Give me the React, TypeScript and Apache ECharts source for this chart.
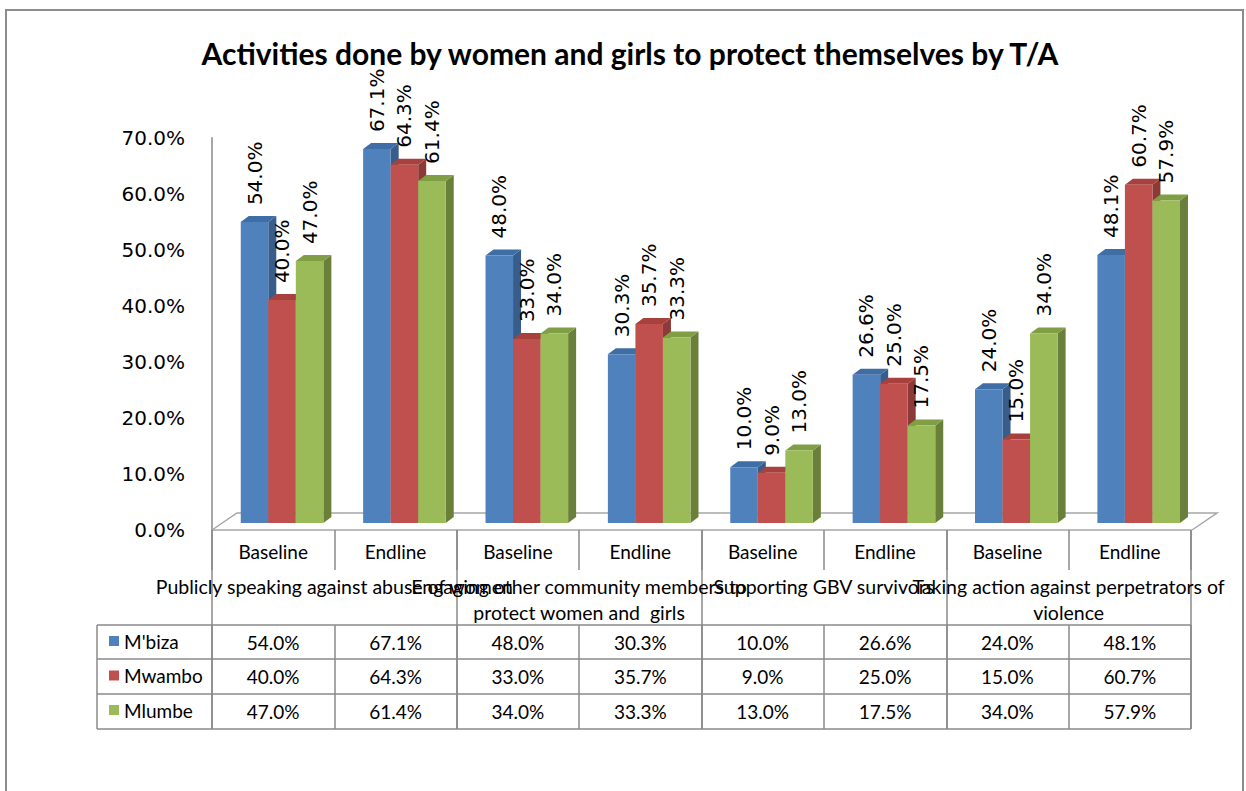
import React, { useEffect, useRef } from "react";
import * as echarts from "echarts";

const levels = ["Baseline", "Endline", "Baseline", "Endline", "Baseline", "Endline", "Baseline", "Endline"];
const groups = [
  "Publicly speaking against abuse of women",
  "Engaging other community members to\nprotect women and  girls",
  "Supporting GBV survivors",
  "Taking action against perpetrators of\nviolence",
];
const seriesNames = ["M'biza", "Mwambo", "Mlumbe"];
const mbiza = [54.0, 67.1, 48.0, 30.3, 10.0, 26.6, 24.0, 48.1];
const mwambo = [40.0, 64.3, 33.0, 35.7, 9.0, 25.0, 15.0, 60.7];
const mlumbe = [47.0, 61.4, 34.0, 33.3, 13.0, 17.5, 34.0, 57.9];
const yMin = 0;
const yMax = 70;
const yStep = 10;

const palettes = [
  { front: "#4F81BD", top: "#3F6DA6", side: "#385D8A" },
  { front: "#C0504D", top: "#A8403D", side: "#8C3A38" },
  { front: "#9BBB59", top: "#809F45", side: "#6A7F3A" },
];

const fmt = (v: number) => v.toFixed(1) + "%";
const LINE = "#8a8a8a";
const FLOOR = "#a6a6a6";
const TABLE_FONT = "Lato";

export default function App() {
  const ref = useRef<HTMLDivElement>(null);
  useEffect(() => {
    if (!ref.current) return;
    const chart = echarts.init(ref.current, null, { renderer: "svg" });
    const all = [mbiza, mwambo, mlumbe];

    const makeSeries = (k: number) => ({
      type: "custom",
      name: seriesNames[k],
      xAxisIndex: 0,
      yAxisIndex: 0,
      itemStyle: { color: palettes[k].front },
      encode: { x: 0, y: 1 },
      data: all[k].map((v, i) => [i, v]),
      renderItem: (params: any, api: any) => {
        const idx = api.value(0);
        const v = api.value(1);
        const c0 = api.coord([idx, 0]);
        const c1 = api.coord([idx, v]);
        const bw = api.size([1, 0])[0];
        const w = bw * 0.225;
        const colStart = c0[0] - bw / 2;
        const x0 = colStart + bw * 0.235 + k * w;
        const yBase = c0[1] - 7;
        const yTop = yBase - (c0[1] - c1[1]) * 0.995;
        const dx = 8;
        const dy = -6;
        const p = palettes[k];
        return {
          type: "group",
          children: [
            {
              type: "polygon",
              shape: { points: [[x0 + w, yTop], [x0 + w + dx, yTop + dy], [x0 + w + dx, yBase + dy], [x0 + w, yBase]] },
              style: { fill: p.side },
            },
            {
              type: "polygon",
              shape: { points: [[x0, yTop], [x0 + dx, yTop + dy], [x0 + w + dx, yTop + dy], [x0 + w, yTop]] },
              style: { fill: p.top },
            },
            {
              type: "rect",
              shape: { x: x0, y: yTop, width: w, height: yBase - yTop },
              style: { fill: p.front },
            },
            {
              type: "text",
              x: x0 + w / 2,
              y: yTop - 17,
              rotation: Math.PI / 2,
              style: {
                text: fmt(v),
                fill: "#000",
                font: "20px 'DejaVu Sans'",
                align: "left",
                verticalAlign: "middle",
              },
            },
          ],
        };
      },
    });

    const rowAxis = (vals: number[], offset: number, ticks: boolean) => ({
      type: "category",
      gridIndex: 0,
      position: "bottom",
      offset,
      data: vals.map(fmt),
      axisLine: { show: false },
      axisTick: ticks
        ? { show: true, inside: false, length: 104, interval: 0, lineStyle: { color: LINE, width: 1.5 } }
        : { show: false },
      axisLabel: {
        interval: 0,
        margin: 7,
        fontFamily: TABLE_FONT,
        fontSize: 19,
        lineHeight: 20,
        color: "#000",
      },
    });

    chart.setOption({
      animation: false,
      title: {
        text: "Activities done by women and girls to protect themselves by T/A",
        left: 630,
        top: 38,
        padding: 0,
        textAlign: "center",
        textStyle: { fontFamily: "Lato", fontWeight: "bold", fontSize: 30, lineHeight: 30, color: "#000" },
      },
      legend: {
        orient: "vertical",
        left: 104,
        top: 626,
        itemGap: 14.5,
        itemWidth: 10,
        itemHeight: 10,
        icon: "rect",
        data: seriesNames,
        textStyle: { fontFamily: TABLE_FONT, fontSize: 19, lineHeight: 20, color: "#000" },
        selectedMode: false,
      },
      grid: { left: 212, right: 55, top: 138, bottom: 261, containLabel: false },
      xAxis: [
        {
          type: "category",
          data: levels,
          position: "bottom",
          axisLine: { show: true, lineStyle: { color: FLOOR, width: 1.5 } },
          axisTick: { show: true, length: 40, interval: 0, lineStyle: { color: LINE, width: 1.5 } },
          axisLabel: { interval: 0, margin: 11, fontFamily: TABLE_FONT, fontSize: 19, lineHeight: 20, color: "#000" },
        },
        {
          type: "category",
          data: groups,
          position: "bottom",
          offset: 0,
          axisLine: { show: false },
          axisTick: { show: true, length: 199, interval: 0, lineStyle: { color: LINE, width: 1.5 } },
          axisLabel: { interval: 0, margin: 43, fontFamily: TABLE_FONT, fontSize: 19.5, lineHeight: 26, color: "#000" },
        },
        rowAxis(mbiza, 95, true),
        rowAxis(mwambo, 129, false),
        rowAxis(mlumbe, 164, false),
      ],
      yAxis: {
        type: "value",
        min: yMin,
        max: yMax,
        interval: yStep,
        axisLine: { show: true, lineStyle: { color: FLOOR, width: 2 } },
        axisTick: { show: false },
        splitLine: { show: false },
        axisLabel: {
          margin: 27,
          formatter: (v: number) => fmt(v),
          fontFamily: "DejaVu Sans",
          fontSize: 20,
          color: "#000",
        },
      },
      graphic: [
        {
          type: "rect",
          shape: { x: 6, y: 10, width: 1237, height: 800 },
          style: { fill: "none", stroke: "#8c8c8c", lineWidth: 2 },
          silent: true,
        },
        {
          type: "polyline",
          shape: { points: [[212, 530], [237, 513], [1217, 513], [1192, 530]] },
          style: { fill: "none", stroke: FLOOR, lineWidth: 1.5 },
          silent: true,
        },
        ...[625, 659, 694, 729].map((y) => ({
          type: "line",
          shape: { x1: 97, y1: y, x2: 1191, y2: y },
          style: { stroke: LINE, lineWidth: 1.5 },
          silent: true,
        })),
        {
          type: "line",
          shape: { x1: 97, y1: 625, x2: 97, y2: 729 },
          style: { stroke: LINE, lineWidth: 1.5 },
          silent: true,
        },
      ],
      series: [makeSeries(0), makeSeries(1), makeSeries(2)],
    });
    return () => chart.dispose();
  }, []);
  return <div ref={ref} style={{ position: "fixed", left: 0, top: 0, width: 1246, height: 791, background: "#fff" }} />;
}
